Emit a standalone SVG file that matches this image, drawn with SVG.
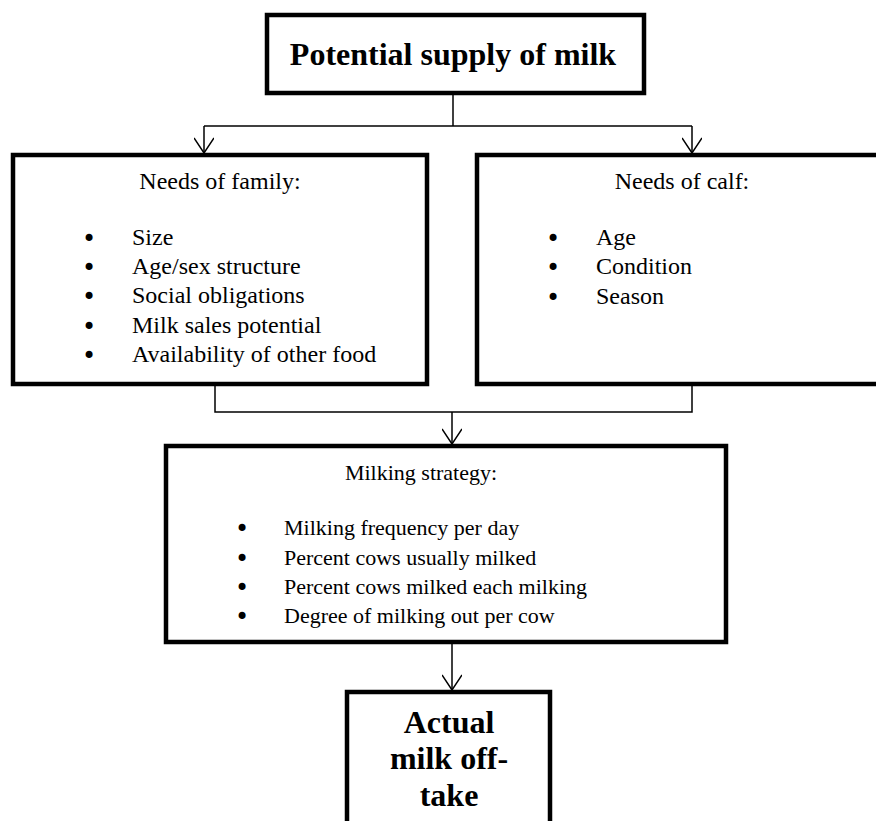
<svg xmlns="http://www.w3.org/2000/svg" width="876" height="821" viewBox="0 0 876 821">
<defs>
<style>
.box{fill:#fff;stroke:#000;stroke-width:4.5;stroke-linejoin:miter}
.con{fill:none;stroke:#000;stroke-width:1.5}
.t{font-family:"Liberation Serif","Times New Roman",serif;fill:#000}
.h{font-size:32px;font-weight:bold;text-anchor:middle}
.m{font-size:24px}
.s{font-size:22px}
.c{text-anchor:middle}
.b{font-family:"DejaVu Sans",sans-serif;font-size:24px;fill:#000}
</style>
<marker id="arr" markerUnits="userSpaceOnUse" viewBox="0 0 20 20" markerWidth="20" markerHeight="20" refX="20" refY="10" orient="auto">
<path d="M5,0 L20,10 L5,20" fill="none" stroke="#000" stroke-width="1.5"/>
</marker>
</defs>
<rect width="876" height="821" fill="#fff"/>
<g id="connectors">
<path class="con" d="M453,93 V126"/>
<path class="con" d="M204,126 H692"/>
<path class="con" d="M204,126 V153" marker-end="url(#arr)"/>
<path class="con" d="M692,126 V153" marker-end="url(#arr)"/>
<path class="con" d="M215,384 V412 H692 V384"/>
<path class="con" d="M452,412 V444" marker-end="url(#arr)"/>
<path class="con" d="M452,642 V690" marker-end="url(#arr)"/>
</g>
<g id="potential">
<rect class="box" x="267" y="15" width="377" height="78"/>
<text class="t h" x="453" y="65">Potential supply of milk</text>
</g>
<g id="family">
<rect class="box" x="13" y="155" width="414" height="229"/>
<text class="t m c" x="220" y="189">Needs of family:</text>
<g class="b">
<text x="82" y="247">•</text>
<text x="82" y="276">•</text>
<text x="82" y="305">•</text>
<text x="82" y="335">•</text>
<text x="82" y="364">•</text>
</g>
<g class="t m">
<text x="132" y="245">Size</text>
<text x="132" y="274">Age/sex structure</text>
<text x="132" y="303">Social obligations</text>
<text x="132" y="333">Milk sales potential</text>
<text x="132" y="362">Availability of other food</text>
</g>
</g>
<g id="calf">
<rect class="box" x="477" y="155" width="410" height="229"/>
<text class="t m c" x="682" y="189">Needs of calf:</text>
<g class="b">
<text x="546" y="247">•</text>
<text x="546" y="276">•</text>
<text x="546" y="306">•</text>
</g>
<g class="t m">
<text x="596" y="245">Age</text>
<text x="596" y="274">Condition</text>
<text x="596" y="304">Season</text>
</g>
</g>
<g id="milking">
<rect class="box" x="166" y="446" width="560" height="196"/>
<text class="t s c" x="421" y="480">Milking strategy:</text>
<g class="b">
<text x="235" y="537">•</text>
<text x="235" y="567">•</text>
<text x="235" y="596">•</text>
<text x="235" y="625">•</text>
</g>
<g class="t s">
<text x="284" y="535">Milking frequency  per day</text>
<text x="284" y="565">Percent cows usually milked</text>
<text x="284" y="594">Percent cows milked each milking</text>
<text x="284" y="623">Degree of milking out per cow</text>
</g>
</g>
<g id="actual">
<rect class="box" x="347" y="692" width="203" height="160"/>
<text class="t h" x="449" y="733">Actual</text>
<text class="t h" x="449" y="769">milk off-</text>
<text class="t h" x="449" y="806">take</text>
</g>
</svg>
